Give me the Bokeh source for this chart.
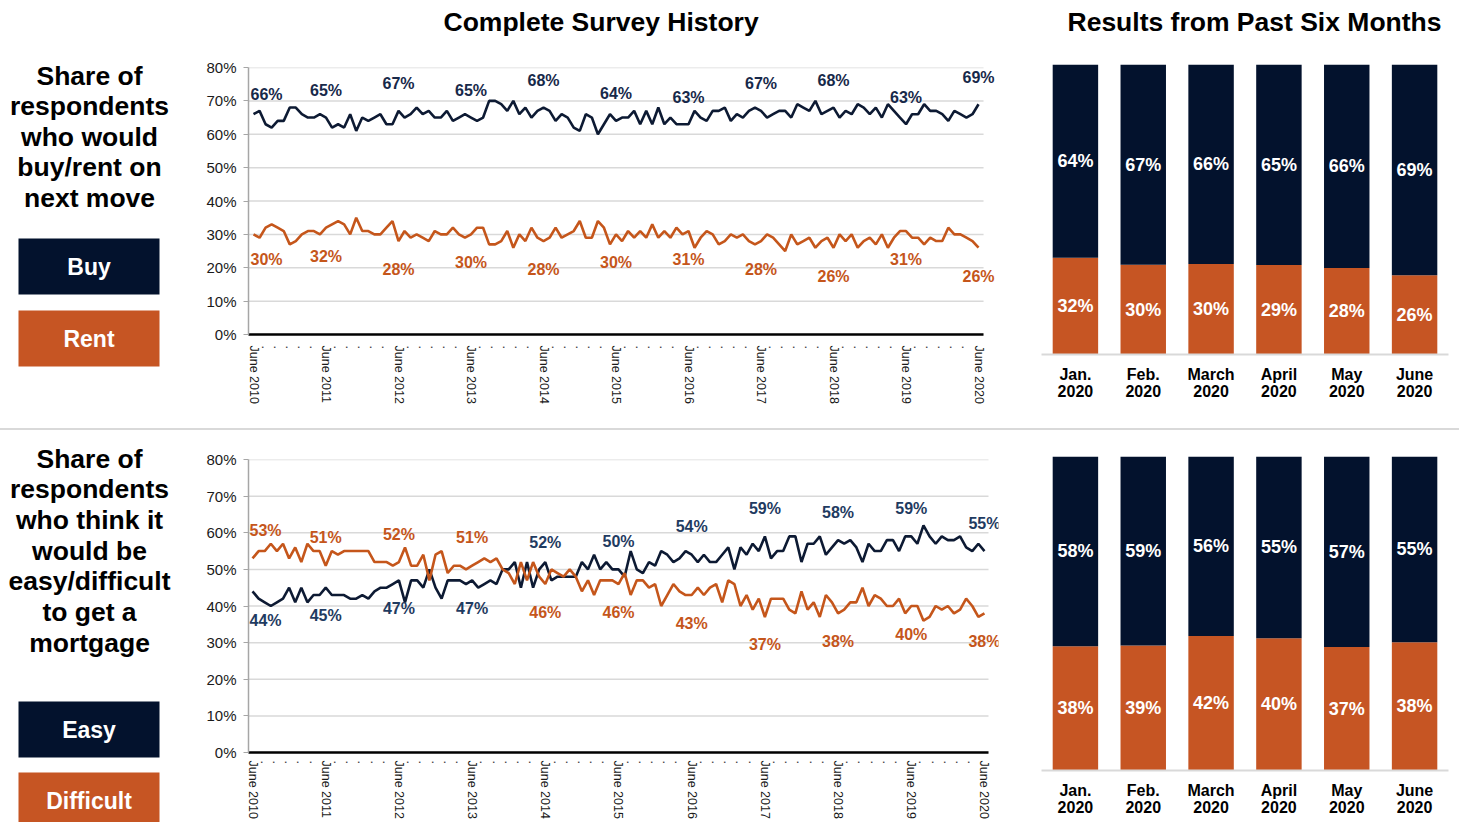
from bokeh.plotting import figure
from bokeh.models import (ColumnDataSource, Range1d, FactorRange, FixedTicker, LabelSet, Title, Div,
                          CategoricalAxis)
from bokeh.layouts import row, column
from bokeh.embed import file_html
from bokeh.resources import INLINE
from bokeh.core.properties import value

# ---------------- data ----------------
start_year = 2010  # series start June 2010, monthly through June 2020
buy = [66,67,63,62,64,64,68,68,66,65, 65,66,65,62,63,62,66,61,65,64,
       65,66,63,63,67,65,66,68,66,67, 65,65,67,64,65,66,65,64,65,70,
       70,69,67,70,66,68,65,67,68,67, 64,66,65,62,61,66,65,60,63,66,
       64,65,65,67,63,67,63,68,63,65, 63,63,63,67,65,64,67,67,68,64,
       66,65,67,68,67,65,66,67,67,65, 69,68,67,70,66,67,68,65,67,66,
       69,68,66,68,65,69,67,65,63,66, 66,69,67,67,66,64,67,66,65,66, 69]
rent = [30,29,32,33,32,31,27,28,30,31, 31,30,32,33,34,33,30,35,31,31,
        30,30,32,34,28,31,29,30,29,28, 31,30,30,32,30,29,30,32,32,27,
        27,28,31,26,30,28,32,29,28,29, 32,29,30,31,34,29,29,34,32,27,
        30,28,31,29,31,29,33,29,31,29, 32,30,31,26,29,31,30,27,28,30,
        29,30,28,27,28,30,29,27,25,30, 27,28,29,26,28,29,26,30,28,30,
        26,28,29,27,30,26,29,31,31,29, 29,27,29,28,28,32,30,30,29,28, 26]
easy = [44,42,41,40,41,42,45,41,45,41, 43,43,45,43,43,43,42,42,43,42,
        44,45,45,46,47,41,47,47,45,50, 45,42,47,47,47,46,47,45,46,47,
        46,50,50,52,45,52,45,50,52,47, 48,48,48,48,52,50,54,50,52,50,
        50,48,55,50,49,52,51,55,54,52, 53,55,54,52,54,52,52,54,56,50,
        56,54,57,55,59,53,55,55,59,59, 52,57,57,59,54,56,58,57,58,56,
        52,57,55,55,58,58,55,59,59,57, 62,59,57,59,58,58,59,56,55,57, 55]
difficult = [53,55,55,57,55,57,53,56,52,57, 55,55,51,55,54,55,55,55,55,55,
             52,52,52,51,52,56,51,51,54,47, 54,55,49,51,51,50,51,52,53,52,
             53,50,49,46,52,47,52,48,46,50, 49,48,50,48,44,47,43,47,47,47,
             46,49,43,47,47,45,46,40,43,46, 44,43,43,45,43,45,46,41,47,46,
             40,43,39,42,37,42,42,42,39,38, 44,39,41,37,43,41,38,39,41,41,
             45,40,43,42,40,40,42,38,40,40, 36,37,40,39,40,38,39,42,40,37, 38]

month6_names = ["Jan.", "Feb.", "March", "April", "May", "June"]
month6_year = "2020"
buy6 = [64, 67, 66, 65, 66, 69]
rent6 = [32, 30, 30, 29, 28, 26]
easy6 = [58, 59, 56, 55, 57, 55]
difficult6 = [38, 39, 42, 40, 37, 38]

y_ticks = [0, 10, 20, 30, 40, 50, 60, 70, 80]

# ---------------- styles ----------------
FONT = "Liberation Sans"
NAVY_LINE = "#0d1a33"
NAVY_BAR = "#03122d"
ORANGE = "#c5561b"
ORANGE_BAR = "#c65523"
NAVY_LABEL_TOP = "#17294a"
NAVY_LABEL_BOT = "#1f3b61"
GRID = "#d9d9d9"

n = len(buy)
xs = list(range(n))
label_idx = list(range(0, n, 12))


def month_tick_labels():
    d = {}
    for m in range(0, n, 2):
        d[m] = f"June {start_year + m // 12}" if m % 12 == 0 else "."
    return d


def add_title(p, text, offset, spacer_standoff):
    # spacer panel nearest the frame, then the visible title above it
    p.add_layout(Title(text=" ", text_font_size="12px", standoff=spacer_standoff), "above")
    p.add_layout(Title(text=text, align="left", offset=offset, standoff=8,
                       text_font=FONT, text_font_style="bold", text_font_size="26.5px",
                       text_color="black"), "above")


def line_chart(s_navy, s_orange, navy_off, orange_off, navy_label_color,
               height, left, right, top, bottom, pad, extra, x_standoff, title=None):
    p = figure(width=830, height=height, x_range=Range1d(-pad, n - 1 + pad + extra),
               y_range=Range1d(0, 80), output_backend="svg", toolbar_location=None,
               min_border_left=left, min_border_right=right,
               min_border_top=top, min_border_bottom=bottom)
    p.outline_line_color = None
    p.grid.grid_line_color = None
    # horizontal gridlines limited to the data span
    p.segment(x0=[-pad] * len(y_ticks), x1=[n - 1 + pad] * len(y_ticks), y0=y_ticks, y1=y_ticks,
              line_color=GRID, line_width=1.5)
    p.yaxis.ticker = FixedTicker(ticks=y_ticks)
    p.yaxis.major_label_overrides = {t: f"{t}%" for t in y_ticks}
    p.yaxis.axis_line_color = "#a6a6a6"
    p.yaxis.axis_line_width = 1.5
    p.yaxis.major_tick_line_color = "#a6a6a6"
    p.yaxis.major_tick_out = 5
    p.yaxis.major_tick_in = 0
    p.yaxis.minor_tick_line_color = None
    p.yaxis.major_label_standoff = 7
    p.yaxis.major_label_text_font = FONT
    p.yaxis.major_label_text_font_size = "15px"
    p.yaxis.major_label_text_color = "#1a1a1a"
    p.xaxis.ticker = FixedTicker(ticks=list(range(0, n, 2)))
    p.xaxis.major_label_overrides = month_tick_labels()
    p.xaxis.major_label_orientation = "vertical"
    p.xaxis.bounds = (-pad, n - 1 + pad)
    p.xaxis.axis_line_color = "black"
    p.xaxis.axis_line_width = 2.5
    p.xaxis.major_tick_line_color = None
    p.xaxis.minor_tick_line_color = None
    p.xaxis.major_label_standoff = x_standoff
    p.xaxis.major_label_text_font = FONT
    p.xaxis.major_label_text_font_size = "12.5px"
    p.xaxis.major_label_text_color = "#1a1a1a"

    p.line(xs, s_navy, line_color=NAVY_LINE, line_width=2.6)
    p.line(xs, s_orange, line_color=ORANGE, line_width=2.6)

    for series, offs, color in ((s_navy, navy_off, navy_label_color),
                                (s_orange, orange_off, ORANGE)):
        src = ColumnDataSource(dict(
            x=label_idx, y=[series[i] for i in label_idx],
            t=[f"{series[i]}%" for i in label_idx],
            xo=[13 if k == 0 else 0 for k in range(len(label_idx))],
            yo=offs))
        p.add_layout(LabelSet(x="x", y="y", text="t", source=src, x_offset="xo", y_offset="yo",
                              text_font=value(FONT), text_font_style="bold",
                              text_font_size="16px", text_color=color,
                              text_align="center", text_baseline="middle"))
    if title:
        add_title(p, title, 195, 11)
    return p


def bar_chart(s_navy, s_orange, height, top, bottom, title=None):
    total = [a + b for a, b in zip(s_navy, s_orange)]
    o_share = [b / t * 100 for b, t in zip(s_orange, total)]
    n_share = [a / t * 100 for a, t in zip(s_navy, total)]
    o_top = o_share
    n_top = [o + nn for o, nn in zip(o_share, n_share)]
    src = ColumnDataSource(dict(x=month6_names, o_top=o_top, n_top=n_top,
                                o_mid=[v / 2 for v in o_top],
                                n_mid=[(a + b) / 2 for a, b in zip(o_top, n_top)],
                                o_txt=[f"{v}%" for v in s_orange],
                                n_txt=[f"{v}%" for v in s_navy]))
    year_factors = [month6_year + "\u200b" * i for i in range(len(month6_names))]
    p = figure(width=449, height=height, x_range=FactorRange(*month6_names), y_range=Range1d(0, 100),
               output_backend="svg", toolbar_location=None,
               min_border_left=31, min_border_right=11, min_border_top=top, min_border_bottom=bottom)
    p.extra_x_ranges = {"yr": FactorRange(*year_factors)}
    p.outline_line_color = None
    p.grid.grid_line_color = None
    p.yaxis.visible = False
    ax = p.xaxis[0]
    ax.axis_line_color = GRID
    ax.axis_line_width = 2
    ax.major_tick_line_color = None
    ax.minor_tick_line_color = None
    ax.major_label_standoff = 5
    ax2 = CategoricalAxis(x_range_name="yr", axis_line_color=None, major_tick_line_color=None,
                          minor_tick_line_color=None, major_label_standoff=-9)
    p.add_layout(ax2, "below")
    for a in (ax, ax2):
        a.major_label_text_font = FONT
        a.major_label_text_font_style = "bold"
        a.major_label_text_font_size = "16px"
        a.major_label_text_color = "black"
    p.vbar(x="x", bottom=0, top="o_top", width=0.67, source=src, fill_color=ORANGE_BAR, line_color=None)
    p.vbar(x="x", bottom="o_top", top="n_top", width=0.67, source=src, fill_color=NAVY_BAR, line_color=None)
    for yf, tf in (("o_mid", "o_txt"), ("n_mid", "n_txt")):
        p.add_layout(LabelSet(x="x", y=yf, text=tf, source=src,
                              text_font=value(FONT), text_font_style="bold",
                              text_font_size="18px", text_color="white",
                              text_align="center", text_baseline="middle"))
    if title:
        add_title(p, title, 26, 8)
    return p


def side_panel(lines, first_y, line_h, boxes, height):
    p = figure(width=180, height=height, x_range=Range1d(0, 180), y_range=Range1d(height, 0),
               x_axis_type=None, y_axis_type=None, output_backend="svg", toolbar_location=None,
               min_border=0)
    p.outline_line_color = None
    p.grid.grid_line_color = None
    p.text(x=[89] * len(lines), y=[first_y + i * line_h for i in range(len(lines))], text=lines,
           text_font=value(FONT), text_font_style="bold", text_font_size="26.5px",
           text_color="black", text_align="center", text_baseline="middle")
    for label, color, y0 in boxes:
        p.quad(left=[18], right=[159], top=[y0], bottom=[y0 + 56], fill_color=color, line_color=None)
        p.text(x=[88.5], y=[y0 + 28], text=[label], text_font=value(FONT), text_font_style="bold",
               text_font_size="23px", text_color="white", text_align="center", text_baseline="middle")
    return p


panel1 = side_panel(["Share of", "respondents", "who would", "buy/rent on", "next move"], 75, 30.5,
                    [("Buy", NAVY_BAR, 238), ("Rent", ORANGE_BAR, 310)], 428)
line1 = line_chart(buy, rent,
                   [20, 27, 27, 27, 27, 27, 27, 27, 27, 27, 27],
                   [-25, -28.5, -28.5, -28.5, -28.5, -28.5, -28.5, -28.5, -28.5, -28.5, -28.5],
                   NAVY_LABEL_TOP, 428, 68, 13, 67, 94, 0.83, 2.31, 5, "Complete Survey History")
bar1 = bar_chart(buy6, rent6, 428, 64, 74, "Results from Past Six Months")

panel2 = side_panel(["Share of", "respondents", "who think it", "would be", "easy/difficult",
                     "to get a", "mortgage"], 28, 30.7,
                    [("Easy", NAVY_BAR, 271), ("Difficult", ORANGE_BAR, 342)], 392)
line2 = line_chart(easy, difficult,
                   [-29, -28, -28, -28, 20, 28, 28, 28, 28, 28, 28],
                   [28, 28, 28, 28, -28, -28, -28, -28, -28, -28, -28],
                   NAVY_LABEL_BOT, 392, 68, 12, 29, 70, 0.66, 1.64, 2)
bar2 = bar_chart(easy6, difficult6, 392, 26, 52)

divider = Div(text="", width=1459, height=2, margin=0, styles={"background-color": GRID})

top_row = row(column(panel1), column(line1), column(bar1))
bottom_row = row(column(panel2), column(line2), column(bar2))
layout = column(top_row, divider, bottom_row)

with open("out.html", "w") as f:
    f.write(file_html(layout, INLINE))
